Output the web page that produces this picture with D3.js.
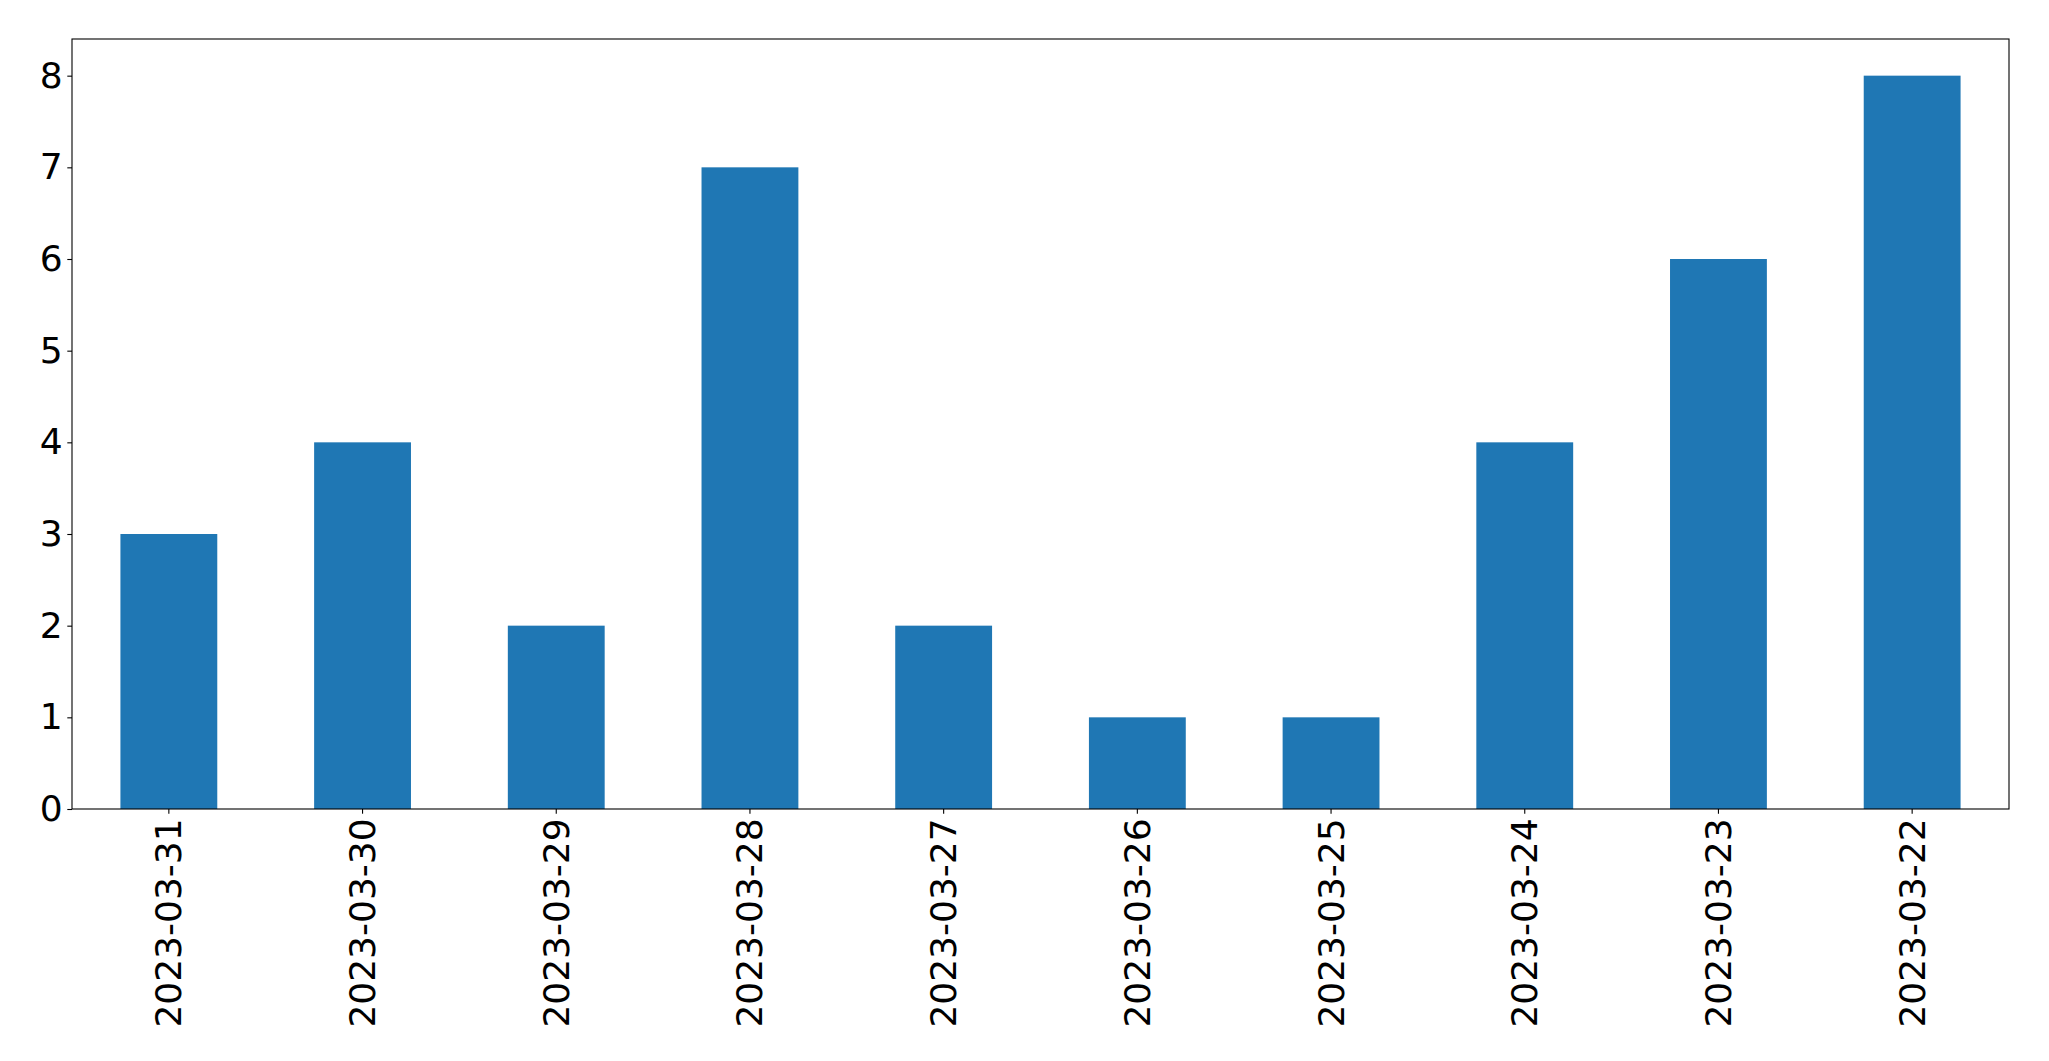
<!DOCTYPE html>
<html>
<head>
<meta charset="utf-8">
<script src="https://cdn.jsdelivr.net/npm/d3@7"></script>
<style>
  html, body { margin: 0; padding: 0; background: #fff; }
  svg { display: block; }
  text { font-family: "DejaVu Sans", sans-serif; }
</style>
</head>
<body>
<script>
const categories = ["2023-03-31","2023-03-30","2023-03-29","2023-03-28","2023-03-27","2023-03-26","2023-03-25","2023-03-24","2023-03-23","2023-03-22"];
const values = [3, 4, 2, 7, 2, 1, 1, 4, 6, 8];
const yTicks = [0, 1, 2, 3, 4, 5, 6, 7, 8];

const W = 2049, H = 1061;
const margin = { left: 72, right: 2049 - 2009, top: 39, bottom: 1061 - 809 };
const fontSize = 36;
const tickLen = 4.7, tickPad = 4.7;

const svg = d3.select("body").append("svg").attr("width", W).attr("height", H);

const x = d3.scaleBand().domain(categories)
  .range([margin.left, W - margin.right]).paddingInner(0.5).paddingOuter(0.25);
const y = d3.scaleLinear().domain([0, 8.4]).range([H - margin.bottom, margin.top]);

svg.append("g").selectAll("rect").data(values).join("rect")
  .attr("x", (d, i) => x(categories[i]))
  .attr("width", x.bandwidth())
  .attr("y", d => y(d))
  .attr("height", d => y(0) - y(d))
  .attr("fill", "#1f77b4");

// frame
svg.append("rect")
  .attr("x", margin.left).attr("y", margin.top)
  .attr("width", W - margin.right - margin.left)
  .attr("height", H - margin.bottom - margin.top)
  .attr("fill", "none").attr("stroke", "#000").attr("stroke-width", 1.1);

// y axis
const yAxis = d3.axisLeft(y).tickValues(yTicks).tickFormat(d3.format("d"))
  .tickSize(tickLen).tickPadding(tickPad);
const gy = svg.append("g").attr("transform", `translate(${margin.left},0)`).call(yAxis);
gy.select(".domain").remove();
gy.selectAll("line").attr("stroke", "#000").attr("stroke-width", 1.1);
gy.selectAll("text").attr("font-size", fontSize).attr("fill", "#000")
  .attr("font-family", "DejaVu Sans, sans-serif");

// x axis
const xAxis = d3.axisBottom(x).tickSize(tickLen).tickPadding(tickPad);
const gx = svg.append("g").attr("transform", `translate(0,${H - margin.bottom})`).call(xAxis);
gx.select(".domain").remove();
gx.selectAll("line").attr("stroke", "#000").attr("stroke-width", 1.1);
gx.selectAll("text")
  .attr("font-size", fontSize).attr("fill", "#000")
  .attr("font-family", "DejaVu Sans, sans-serif")
  .attr("text-anchor", "end")
  .attr("dy", null)
  .attr("y", null)
  .attr("transform", `translate(0,${tickLen + tickPad}) rotate(-90)`)
  .attr("x", 0)
  .attr("dominant-baseline", "central");
</script>
</body>
</html>
